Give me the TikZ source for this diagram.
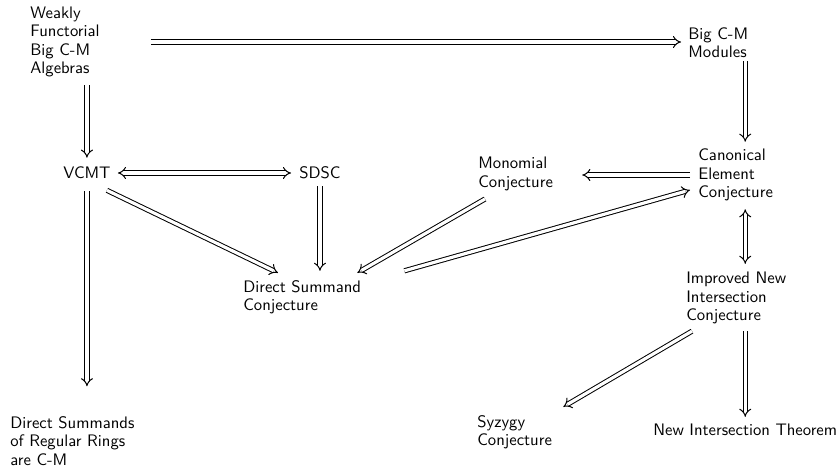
\documentclass[tikz,border=0pt]{standalone}
\usepackage{tikz}
\usetikzlibrary{arrows.meta,calc}

\begin{document}
\begin{tikzpicture}[
    x=0.6pt, y=-0.6pt,
    font=\sffamily\fontsize{10}{11}\selectfont,
    thm/.style={align=left, inner sep=0pt, anchor=west},
    imp/.style={double, double distance=1.9pt, line width=0.6pt, -{Implies[scale=1.5]}},
    bothimp/.style={imp, {Implies[scale=1.5]}-{Implies[scale=1.5]}}
]
\useasboundingbox (0,0) rectangle (840,468);

% results
\node[thm] (weak) at (30,42) {Weakly\\Functorial\\Big C-M\\Algebras};
\node[thm] (bigcm) at (688,43) {Big C-M\\Modules};
\node[thm] (vcmt) at (63,173) {VCMT};
\node[thm] (sdsc) at (299,173) {SDSC};
\node[thm] (mono) at (478,174) {Monomial\\Conjecture};
\node[thm] (cec) at (698,175) {Canonical\\Element\\Conjecture};
\node[thm] (dsc) at (243,297) {Direct Summand\\Conjecture};
\node[thm] (inic) at (686,298) {Improved New\\Intersection\\Conjecture};
\node[thm] (dsrr) at (10,441) {Direct Summands\\of Regular Rings\\are C-M};
\node[thm] (syz) at (477,432) {Syzygy\\Conjecture};
\node[thm] (nit) at (653,430) {New Intersection Theorem};

% implications
\draw[imp, shorten <=30.6pt, shorten >=4.2pt] (weak.east) -- (weak.east -| bigcm.west);
\draw[imp, shorten <=4.8pt, shorten >=5.4pt] (weak.south -| vcmt.north) -- (vcmt.north);
\draw[bothimp, shorten <=4.2pt, shorten >=4.8pt] (vcmt.east) -- (sdsc.west);
\draw[imp, shorten <=7.2pt, shorten >=18pt] (vcmt.south) -- (vcmt.south |- dsrr.north);
\draw[imp] ($(vcmt.south east)+(-4,11)$) -- ($(dsc.north west)+(35,-7)$);
\draw[imp, shorten <=4.2pt, shorten >=5.4pt] (sdsc.south) -- (sdsc.south |- dsc.north);
\draw[imp] ($(mono.south west)+(7,8)$) -- ($(dsc.north east)+(-4,-7)$);
\draw[imp, shorten <=4.8pt, shorten >=17.4pt] (cec.west) -- (cec.west -| mono.east);
\draw[imp] ($(dsc.north east)+(43,-9)$) -- ($(cec.west)+(-8,15)$);
\draw[imp, shorten <=1.8pt, shorten >=4.2pt] (bigcm.south -| nit.north) -- (cec.north -| nit.north);
\draw[bothimp, shorten <=4.8pt, shorten >=4.8pt] (cec.south -| nit.north) -- (inic.north -| nit.north);
\draw[imp] ($(inic.south west)+(6,7)$) -- ($(syz.north east)+(11,-8)$);
\draw[imp, shorten <=4.2pt, shorten >=4.2pt] (inic.south -| nit.north) -- (nit.north);

\end{tikzpicture}
\end{document}
